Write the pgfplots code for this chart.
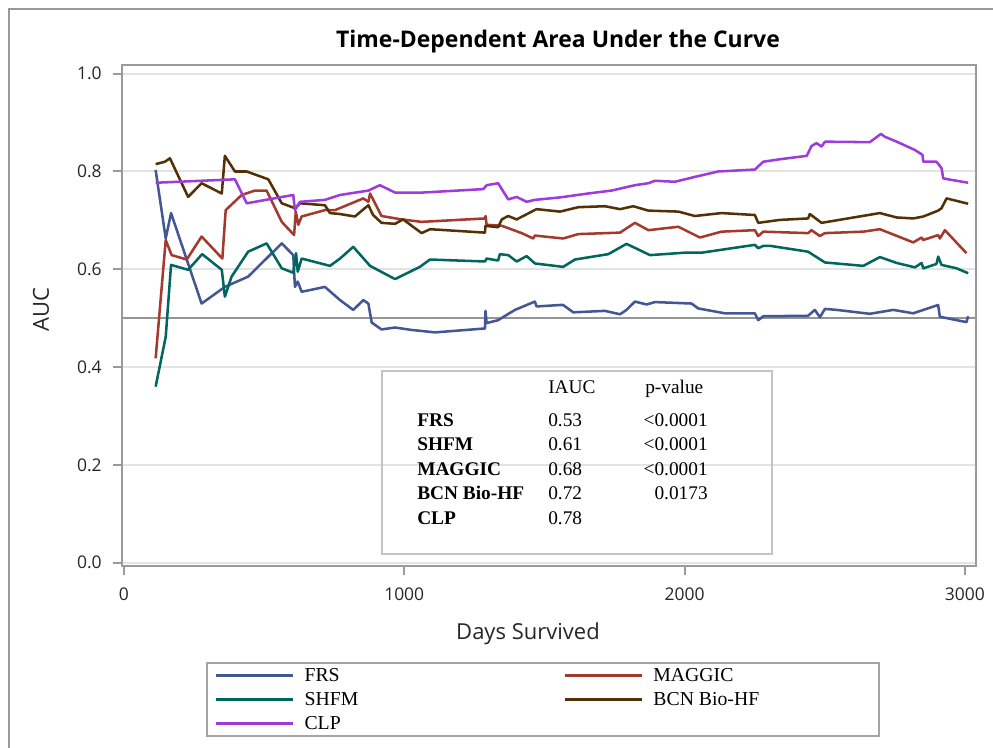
\documentclass[border=0pt]{standalone}
\usepackage{pgfplots}
\pgfplotsset{compat=1.18}
\usepackage{pgfplotstable}
\usepackage{fontspec}
\setmainfont{Liberation Serif}
\setsansfont{Open Sans}

\definecolor{cFRS}{HTML}{445694}
\definecolor{cMAG}{HTML}{A23A2E}
\definecolor{cSHFM}{HTML}{01665E}
\definecolor{cBCN}{HTML}{543005}
\definecolor{cCLP}{HTML}{9D3CDB}
\definecolor{framegray}{HTML}{9A9A9A}
\definecolor{gridgray}{HTML}{E3E3E3}
\definecolor{refgray}{HTML}{959595}
\definecolor{boxgray}{HTML}{C4C4C4}
\definecolor{legendgray}{HTML}{A5A5A5}

% time-dependent AUC by model (days survived, AUC)
\pgfplotstableread{
day auc
113 0.803
149 0.663
168 0.715
277 0.530
360 0.564
443 0.585
563 0.653
604 0.629
610 0.564
620 0.575
634 0.554
717 0.564
771 0.537
818 0.517
854 0.537
872 0.530
884 0.491
919 0.477
967 0.481
1026 0.476
1110 0.471
1288 0.479
1290 0.515
1294 0.490
1335 0.496
1395 0.517
1466 0.534
1472 0.524
1556 0.527
1567 0.527
1603 0.512
1716 0.515
1770 0.508
1793 0.517
1823 0.534
1865 0.528
1894 0.533
2025 0.530
2049 0.520
2144 0.510
2251 0.510
2263 0.496
2281 0.504
2441 0.505
2465 0.517
2483 0.502
2501 0.519
2543 0.517
2661 0.509
2745 0.517
2816 0.510
2852 0.517
2905 0.527
2911 0.503
2971 0.496
3006 0.492
3012 0.504
}\tabFRS

\pgfplotstableread{
day auc
113 0.418
149 0.660
170 0.629
224 0.620
277 0.667
351 0.622
363 0.721
420 0.752
467 0.761
509 0.761
563 0.697
607 0.670
613 0.718
622 0.691
634 0.708
717 0.721
753 0.721
854 0.745
872 0.738
878 0.755
919 0.709
991 0.702
1062 0.697
1288 0.704
1290 0.709
1294 0.691
1348 0.689
1419 0.674
1460 0.663
1466 0.669
1567 0.663
1621 0.672
1770 0.675
1823 0.695
1871 0.680
1978 0.687
2055 0.665
2132 0.677
2251 0.680
2263 0.668
2281 0.677
2441 0.674
2453 0.680
2483 0.668
2501 0.674
2638 0.677
2697 0.682
2816 0.655
2846 0.665
2852 0.660
2905 0.670
2911 0.663
2929 0.680
3006 0.633
}\tabMAG

\pgfplotstableread{
day auc
113 0.360
149 0.462
168 0.609
229 0.599
279 0.631
349 0.599
360 0.544
384 0.585
443 0.636
509 0.653
563 0.602
604 0.593
614 0.633
620 0.595
634 0.622
735 0.607
771 0.622
818 0.646
878 0.607
967 0.580
1056 0.605
1092 0.620
1288 0.616
1294 0.622
1335 0.618
1341 0.631
1371 0.629
1401 0.616
1437 0.627
1466 0.612
1567 0.605
1609 0.620
1728 0.631
1793 0.652
1877 0.629
2001 0.634
2061 0.634
2251 0.650
2263 0.643
2281 0.648
2305 0.648
2441 0.636
2501 0.614
2638 0.607
2697 0.625
2757 0.613
2822 0.604
2846 0.613
2852 0.602
2899 0.611
2905 0.626
2917 0.609
2971 0.602
3012 0.592
}\tabSHFM

\pgfplotstableread{
day auc
113 0.815
146 0.820
164 0.827
229 0.748
277 0.776
349 0.755
360 0.832
396 0.800
438 0.800
515 0.784
563 0.735
610 0.725
628 0.735
717 0.731
735 0.715
771 0.713
824 0.708
872 0.731
889 0.711
919 0.695
967 0.693
996 0.702
1062 0.674
1092 0.682
1288 0.675
1290 0.689
1335 0.686
1348 0.702
1371 0.709
1401 0.702
1472 0.723
1556 0.718
1621 0.727
1716 0.729
1770 0.723
1817 0.729
1871 0.720
1978 0.718
2037 0.709
2132 0.715
2251 0.711
2263 0.695
2340 0.701
2441 0.704
2447 0.713
2489 0.695
2697 0.715
2757 0.706
2816 0.704
2852 0.708
2905 0.720
2917 0.725
2935 0.745
3012 0.734
}\tabBCN

\pgfplotstableread{
day auc
113 0.777
396 0.784
438 0.735
604 0.752
610 0.721
628 0.738
717 0.742
771 0.752
872 0.761
913 0.772
967 0.757
1068 0.757
1282 0.764
1294 0.772
1335 0.776
1371 0.743
1401 0.748
1437 0.738
1466 0.742
1556 0.747
1656 0.755
1740 0.761
1823 0.772
1871 0.776
1894 0.781
1966 0.779
2037 0.789
2120 0.800
2251 0.804
2281 0.820
2340 0.825
2436 0.832
2453 0.852
2471 0.858
2489 0.851
2501 0.861
2661 0.860
2701 0.877
2715 0.871
2757 0.861
2822 0.844
2849 0.834
2852 0.820
2899 0.820
2917 0.807
2923 0.786
2941 0.784
3012 0.777
}\tabCLP

\begin{document}
\begin{tikzpicture}
\begin{scope}[x=0.75pt,y=0.75pt]
\useasboundingbox (0,0) rectangle (993,748);
% outer graph border
\draw[framegray, line width=1.5pt] (9,-5) -- (9,739) -- (1000,739);
\end{scope}

\begin{axis}[
  at={(91.5pt,136.5pt)}, anchor=south west,
  scale only axis, width=640.5pt, height=375.75pt,
  xmin=-7, xmax=3040, ymin=-0.0067, ymax=1.0178,
  xtick={0,1000,2000,3000},
  ytick={0,0.2,0.4,0.6,0.8,1},
  tick align=outside, xtick pos=bottom, ytick pos=left,
  major tick length=7pt,
  tick style={framegray, line width=1.5pt},
  axis line style={framegray, line width=1.5pt},
  ymajorgrids, major grid style={gridgray, line width=1.5pt},
  /pgf/number format/assume math mode=true,
  ticklabel style={font=\sffamily\fontsize{13.1}{15}\selectfont, inner sep=0pt, text=black!85},
  xticklabel style={/pgf/number format/1000 sep={}, yshift=-9.5pt},
  yticklabel style={/pgf/number format/fixed, /pgf/number format/fixed zerofill,
                    /pgf/number format/precision=1, xshift=-8pt},
  legend columns=2,
  legend cell align=left,
  legend image code/.code={\draw[#1] (0pt,0pt) -- (57.75pt,0pt);},
  legend style={at={(axis description cs:0.0984,-0.1916)}, anchor=north west,
    draw=legendgray, line width=1.5pt, fill=white,
    inner xsep=6pt, inner ysep=0.5pt, row sep=0pt,
    nodes={inner sep=0pt, minimum height=18pt, font=\fontsize{14.8}{16}\selectfont},
    /tikz/every odd column/.append style={column sep=7.5pt}},
  every axis plot/.append style={line width=1.9pt, line join=round},
]
\draw[refgray, line width=1.7pt] (axis cs:-7,0.5) -- (axis cs:3040,0.5);
\addplot[cFRS]  table[x=day,y=auc] {\tabFRS};
\addlegendentry{\makebox[194.5pt][l]{FRS}}
\addplot[cMAG]  table[x=day,y=auc] {\tabMAG};
\addlegendentry{\makebox[163pt][l]{MAGGIC}}
\addplot[cSHFM] table[x=day,y=auc] {\tabSHFM};
\addlegendentry{\makebox[194.5pt][l]{SHFM}}
\addplot[cBCN]  table[x=day,y=auc] {\tabBCN};
\addlegendentry{\makebox[163pt][l]{BCN Bio-HF}}
\addplot[cCLP]  table[x=day,y=auc] {\tabCLP};
\addlegendentry{\makebox[194.5pt][l]{CLP}}
\end{axis}

\begin{scope}[x=0.75pt,y=0.75pt]
% title and axis labels
\node[anchor=base, font=\sffamily\bfseries\fontsize{17.2}{20}\selectfont] at (558,700) {Time-Dependent Area Under the Curve};
\node[rotate=90, font=\sffamily\fontsize{16.5}{19}\selectfont, text=black!85] at (41,438) {AUC};
\node[anchor=base, font=\sffamily\fontsize{16.5}{19}\selectfont, text=black!85] at (528,108) {Days Survived};

% integrated AUC summary box
\draw[boxgray, line width=1.1pt] (382,377) rectangle (772,194);
\begin{scope}[every node/.style={font=\fontsize{14.5}{16}\selectfont, inner sep=0pt}]
\node[anchor=base west] at (548,354) {IAUC};
\node[anchor=base west] at (645,354) {p-value};
\node[anchor=base west, font=\bfseries\fontsize{14.5}{16}\selectfont] at (417,321) {FRS};
\node[anchor=base west, font=\bfseries\fontsize{14.5}{16}\selectfont] at (417,297) {SHFM};
\node[anchor=base west, font=\bfseries\fontsize{14.5}{16}\selectfont] at (417,272.5) {MAGGIC};
\node[anchor=base west, font=\bfseries\fontsize{14.5}{16}\selectfont] at (417,248) {BCN Bio-HF};
\node[anchor=base west, font=\bfseries\fontsize{14.5}{16}\selectfont] at (417,223.5) {CLP};
\node[anchor=base west] at (548,321) {0.53};
\node[anchor=base west] at (548,297) {0.61};
\node[anchor=base west] at (548,272.5) {0.68};
\node[anchor=base west] at (548,248) {0.72};
\node[anchor=base west] at (548,223.5) {0.78};
\node[anchor=base east] at (708,321) {<0.0001};
\node[anchor=base east] at (708,297) {<0.0001};
\node[anchor=base east] at (708,272.5) {<0.0001};
\node[anchor=base east] at (708,248) {0.0173};
\end{scope}
\end{scope}
\end{tikzpicture}
\end{document}
